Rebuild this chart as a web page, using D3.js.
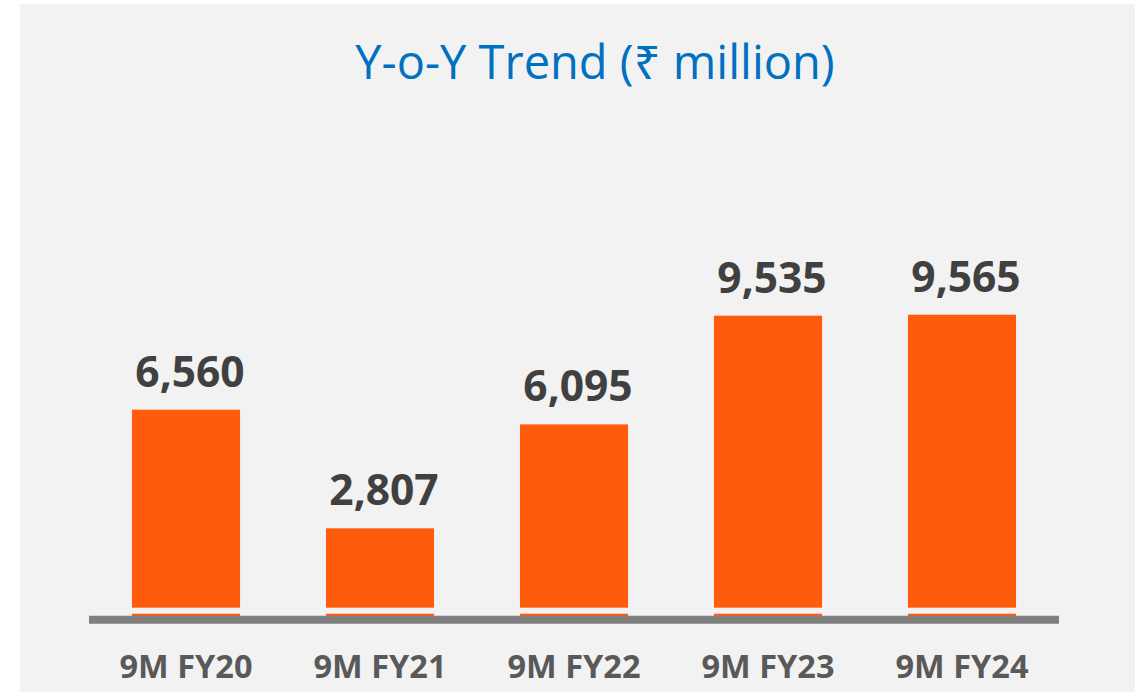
<!DOCTYPE html>
<html>
<head>
<meta charset="utf-8">
<script src="https://cdn.jsdelivr.net/npm/d3@7"></script>
<style>
  body { margin: 0; background: #ffffff; }
  svg { display: block; }
</style>
</head>
<body>
<div id="wrapper"></div>
<script>
const categories = ["9M FY20", "9M FY21", "9M FY22", "9M FY23", "9M FY24"];
const values = [6560, 2807, 6095, 9535, 9565];
const chartTitle = "Y-o-Y Trend (\u20B9 million)";

function drawBarChart() {
    const dimensions = {
        width: 1135,
        height: 692,
        panel: { left: 20, top: 4 },
        plot: { left: 89, right: 1059, baseline: 617, top: 301 },
    }

    const wrapper = d3.select('#wrapper')
        .append('svg')
            .attr("width", dimensions.width)
            .attr("height", dimensions.height);

    // light grey panel behind everything
    wrapper.append("rect")
        .attr("x", dimensions.panel.left)
        .attr("y", dimensions.panel.top)
        .attr("width", dimensions.width - dimensions.panel.left)
        .attr("height", dimensions.height - dimensions.panel.top)
        .attr("fill", "#f2f2f2");

    wrapper.append("text")
        .attr("x", 595)
        .attr("y", 79)
        .attr("text-anchor", "middle")
        .attr("font-family", "'Open Sans', 'Noto Sans', sans-serif")
        .attr("font-size", 47)
        .attr("fill", "#0070c0")
        .text(chartTitle);

    const xScale = d3.scaleBand()
        .domain(categories)
        .range([dimensions.plot.left, dimensions.plot.right])
        .paddingInner(0.443)
        .paddingOuter(0.2215);

    const yScale = d3.scaleLinear()
        .domain([0, 10000])
        .range([dimensions.plot.baseline, dimensions.plot.top]);

    const bounds = wrapper.append("g");

    bounds.selectAll(".bar")
        .data(values)
        .join("rect")
            .attr("class", "bar")
            .attr("x", (d, i) => xScale(categories[i]))
            .attr("width", xScale.bandwidth())
            .attr("y", d => yScale(d))
            .attr("height", d => yScale(0) - yScale(d))
            .attr("fill", "#fe5b0d");

    // thin light gap just above the base line
    bounds.append("rect")
        .attr("x", dimensions.plot.left)
        .attr("width", dimensions.plot.right - dimensions.plot.left)
        .attr("y", yScale(0) - 9.3)
        .attr("height", 6)
        .attr("fill", "#f2f2f2");

    bounds.append("line")
        .attr("x1", dimensions.plot.left)
        .attr("x2", dimensions.plot.right)
        .attr("y1", yScale(0) + 2.7)
        .attr("y2", yScale(0) + 2.7)
        .attr("stroke", "#7f7f7f")
        .attr("stroke-width", 8);

    bounds.selectAll(".value")
        .data(values)
        .join("text")
            .attr("class", "value")
            .attr("x", (d, i) => xScale(categories[i]) + xScale.bandwidth() / 2 + 4)
            .attr("y", d => yScale(d) - 23)
            .attr("text-anchor", "middle")
            .attr("font-family", "'Open Sans', sans-serif")
            .attr("font-weight", "bold")
            .attr("font-size", 42.5)
            .attr("fill", "#404040")
            .text(d => d3.format(",")(d));

    const xAxisGenerator = d3.axisBottom()
        .scale(xScale)
        .tickSize(0)
        .tickPadding(0);

    const xAxis = bounds.append("g")
        .attr("transform", `translate(0, ${yScale(0) + 61})`)
        .call(xAxisGenerator);

    xAxis.select(".domain").remove();
    xAxis.selectAll("text")
        .attr("dy", 0)
        .attr("font-family", "'Open Sans', sans-serif")
        .attr("font-weight", "bold")
        .attr("font-size", 32.5)
        .attr("fill", "#595959");
}

drawBarChart();
</script>
</body>
</html>
